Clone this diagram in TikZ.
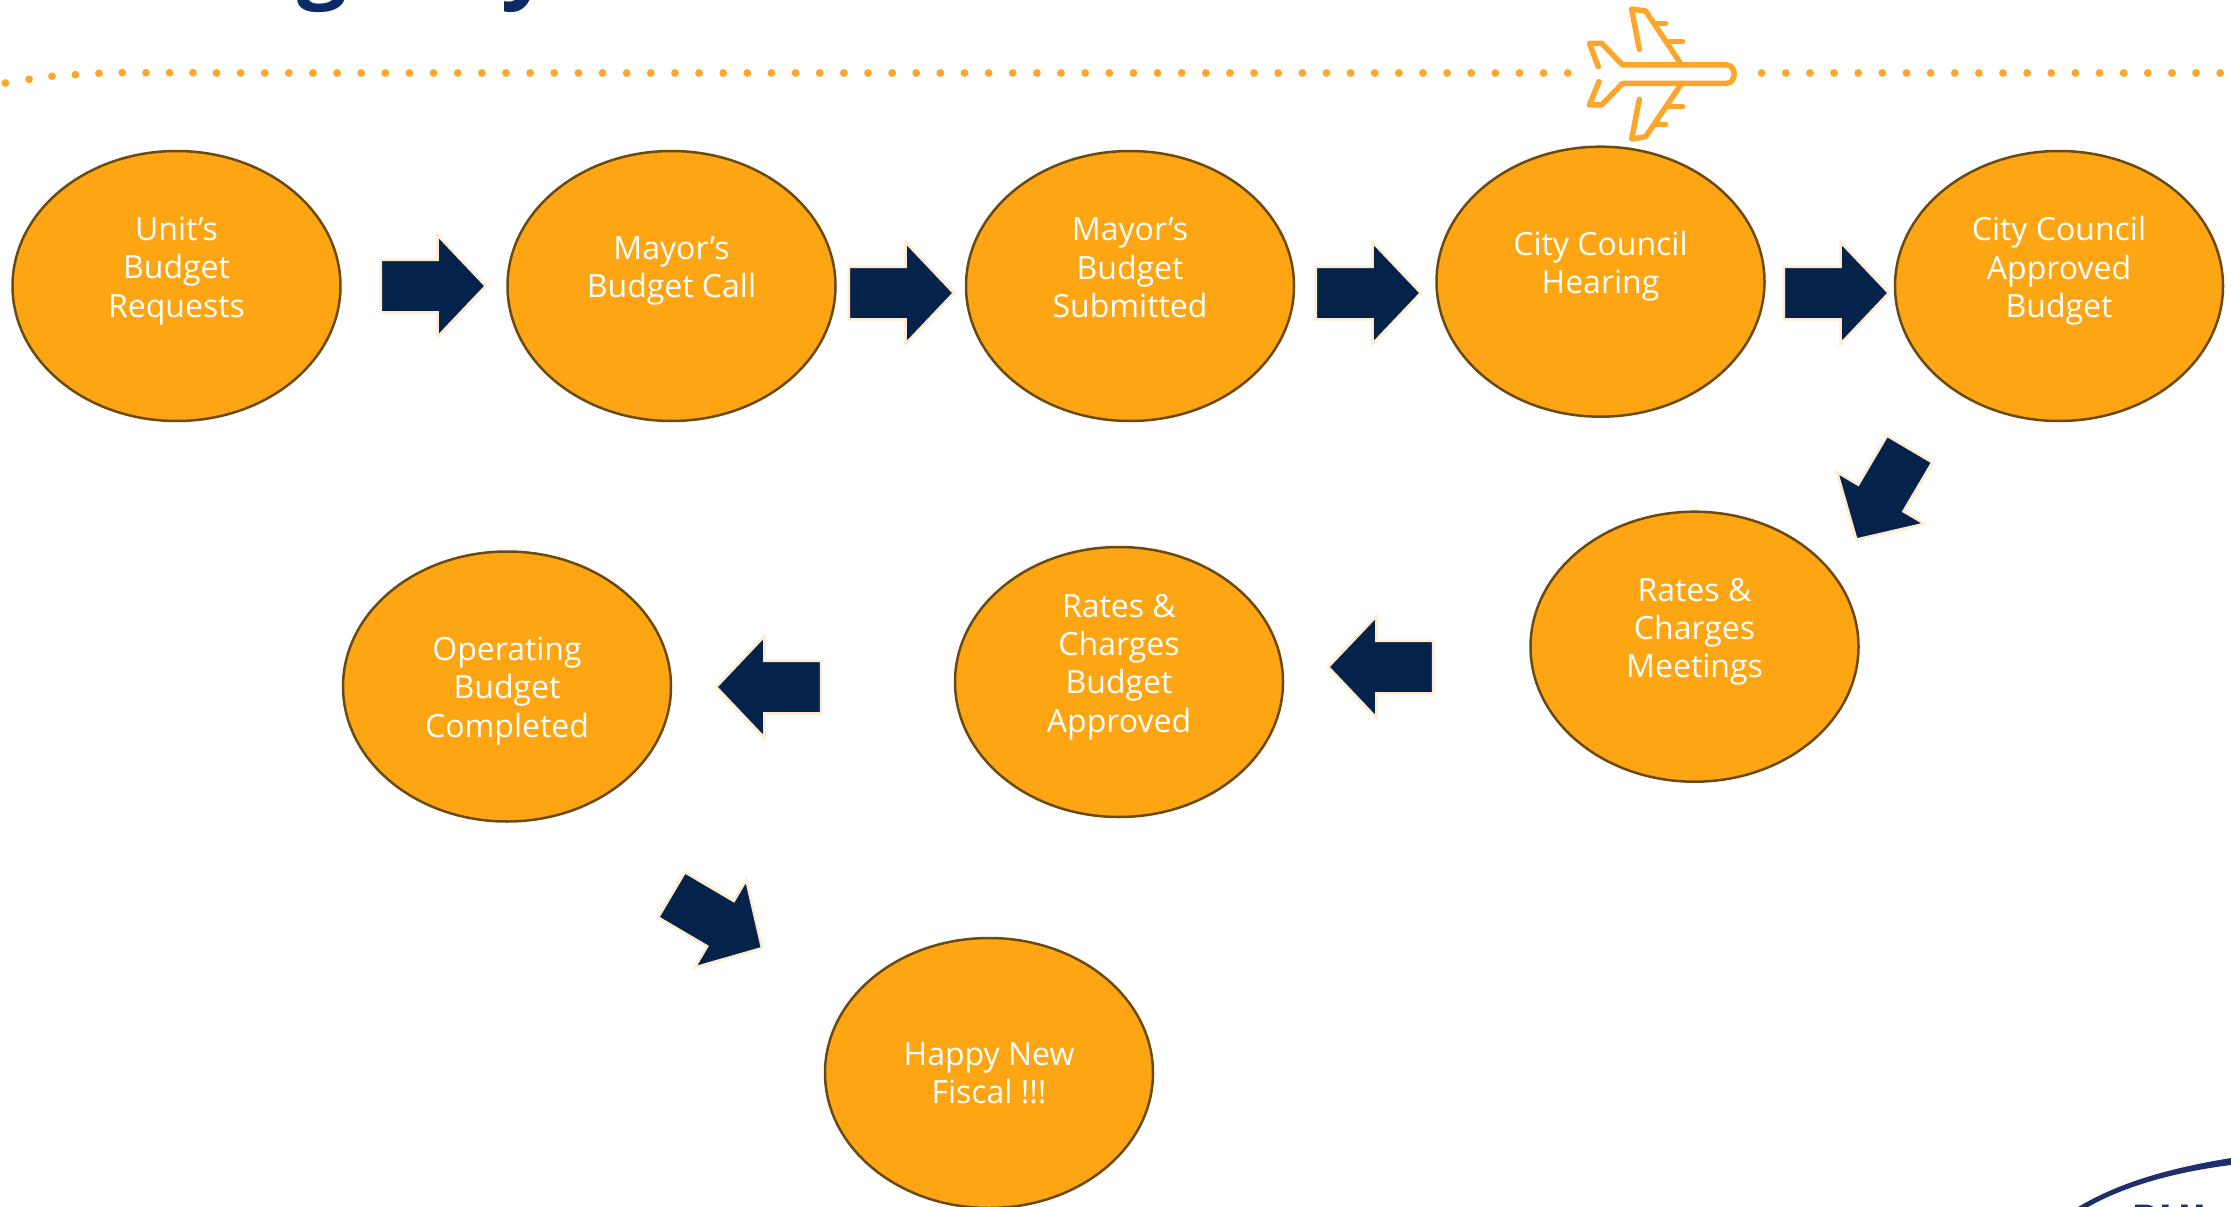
\documentclass[tikz,border=0pt]{standalone}
\usepackage{fontspec}
\setmainfont{Open Sans}
\usetikzlibrary{shapes.arrows,shapes.geometric}
\definecolor{fillor}{HTML}{FDA513}
\definecolor{edgebr}{HTML}{6B4A10}
\definecolor{navy}{HTML}{05224B}
\definecolor{cream}{HTML}{FFEBCF}
\definecolor{dotor}{HTML}{FCA72B}
\definecolor{titleblue}{HTML}{0B2A66}
\definecolor{logoblue}{HTML}{1F2F6B}
\tikzset{
  stage/.style={ellipse,draw=edgebr,line width=2.5pt,fill=fillor,minimum width=328pt,minimum height=270pt,inner sep=0pt},
  stagetext/.style={inner sep=0pt,text=white,align=center,font=\fontsize{32pt}{38.4pt}\selectfont},
  blockarrow/.style={single arrow,anchor=tip,draw=cream,line width=2.5pt,fill=navy,minimum height=105pt,minimum width=99pt,single arrow head extend=24.5pt,single arrow tip angle=93,inner sep=0pt,inner ysep=25pt},
  trail/.style={circle,fill=dotor,inner sep=0pt,minimum size=7.8pt},
  planeline/.style={draw=dotor,line width=5.5pt,line cap=round,line join=round}
}
\begin{document}
\begin{tikzpicture}[x=1pt,y=-1pt]
\useasboundingbox (0,0) rectangle (2231,1207);
\fill[white] (0,0) rectangle (2231,1207);
% title descenders
\node[anchor=base,text=titleblue,font=\fontsize{88pt}{88pt}\selectfont\bfseries,inner sep=0pt] (titleg) at (322,-8) {g};
\node[anchor=base,text=titleblue,font=\fontsize{88pt}{88pt}\selectfont\bfseries,inner sep=0pt] (titley) at (527,-8) {y};
% dotted trail
\foreach \px/\py in {5.4/83,29/79.3,52/76.3,75.4/74.7,99/73.3,122.3/72.7,146/72.7,169.6/72.7,193/72.7,216.5/73}
  \node[trail] at (\px,\py) {};
\foreach \k in {0,...,55}
  \node[trail] at ({240.6+24.13*\k},73) {};
\foreach \k in {0,...,19}
  \node[trail] at ({1761.7+24.13*\k},73) {};
% plane
\begin{scope}[shift={(1500,0)},x=0.3333pt,y=-0.3333pt]
  \draw[planeline] (295,200) -- (268,130) -- (305,130) -- (368,195) -- (680,195) .. controls (710,195) and (710,250) .. (680,250) -- (368,250) -- (305,315) -- (268,315) -- (297,245);
  \draw[planeline] (418,148) -- (395,27) -- (437,33) -- (545,195);
  \draw[planeline] (418,298) -- (395,417) -- (437,410) -- (545,250);
  \draw[planeline] (470,70) -- (497,70);
  \draw[planeline] (500,124) -- (548,124);
  \draw[planeline] (500,320) -- (548,320);
  \draw[planeline] (470,373) -- (497,373);
\end{scope}
% stages
\node[stage] (s1) at (176.5,286) {};
\node[stage] (s2) at (671.5,286) {};
\node[stage] (s3) at (1130,286) {};
\node[stage] (s4) at (1600.5,281.7) {};
\node[stage] (s5) at (2059,286) {};
\node[stage] (s6) at (1694.5,646.7) {};
\node[stage] (s7) at (1119,682) {};
\node[stage] (s8) at (507,686.5) {};
\node[stage] (s9) at (989,1073) {};
\node[stagetext,yshift=15pt] (t1) at (s1) {Unit’s\\Budget\\Requests};
\node[stagetext,yshift=15pt] (t2) at (s2) {Mayor’s\\Budget Call};
\node[stagetext,yshift=18pt] (t3) at (s3) {Mayor’s\\Budget\\Submitted};
\node[stagetext,yshift=15.5pt] (t4) at (s4) {City Council\\Hearing};
\node[stagetext,yshift=15pt] (t5) at (s5) {City Council\\Approved\\Budget};
\node[stagetext,yshift=15pt] (t6) at (s6) {Rates \&\\Charges\\Meetings};
\node[stagetext,yshift=15pt] (t7) at (s7) {Rates \&\\Charges\\Budget\\Approved};
\node[stagetext,yshift=-4.3pt] (t8) at (s8) {Operating\\Budget\\Completed};
\node[stagetext] (t9) at (s9) {Happy New\\Fiscal !!!};
% arrows
\node[blockarrow] (a1) at (487.5,286) {};
\node[blockarrow] (a2) at (955.5,293) {};
\node[blockarrow] (a3) at (1422.5,293) {};
\node[blockarrow] (a4) at (1890.5,293) {};
\node[blockarrow,rotate=239.5] (a5) at (1855.5,541) {};
\node[blockarrow,rotate=180] (a6) at (1326.5,667) {};
\node[blockarrow,rotate=180] (a7) at (714.5,687) {};
\node[blockarrow,rotate=-30.5] (a8) at (763.5,949) {};
% logo fragment
\fill[logoblue] (2078,1207) .. controls (2120,1182) and (2170,1168) .. (2231,1158) -- (2231,1165) .. controls (2175,1172) and (2125,1186) .. (2088,1207) -- cycle;
\node[anchor=base west,text=logoblue,font=\fontsize{44pt}{44pt}\selectfont\bfseries,inner sep=0pt] (logotext) at (2131,1236) {PHL};
\end{tikzpicture}
\end{document}
